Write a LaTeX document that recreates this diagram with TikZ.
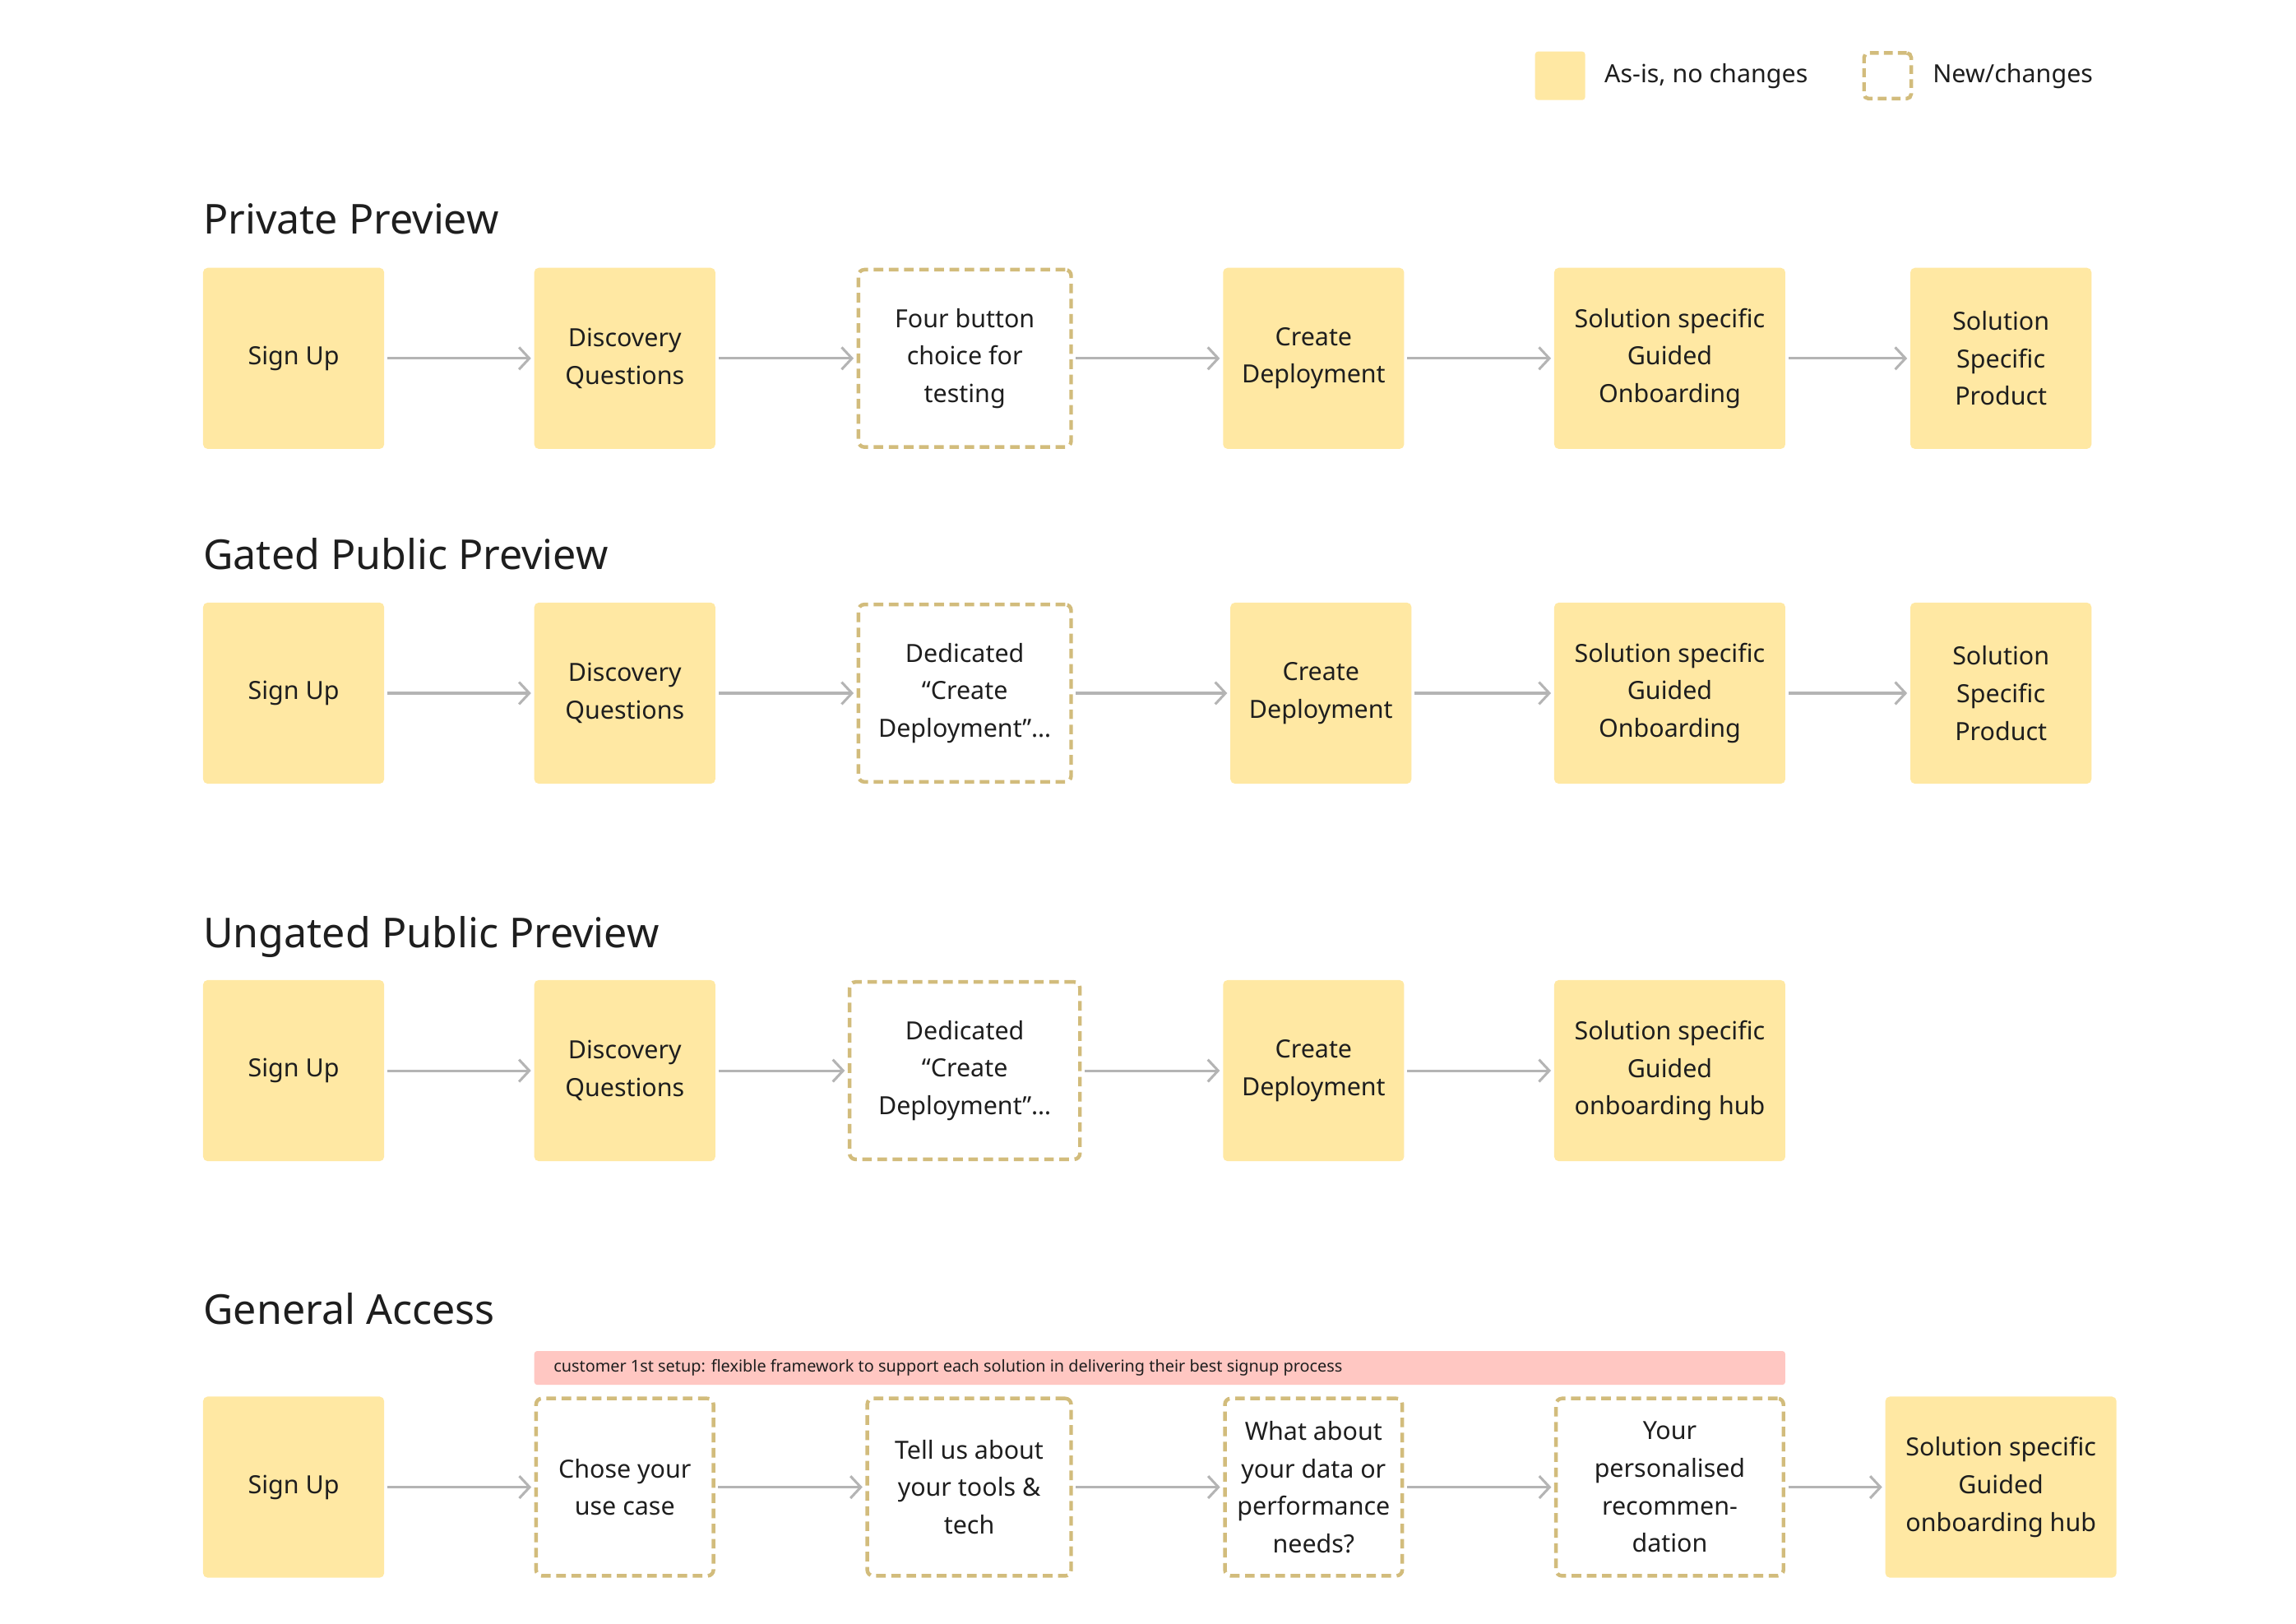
\documentclass[tikz,border=0pt]{standalone}
\usepackage{fontspec}
\setmainfont{Noto Sans}
\usetikzlibrary{arrows.meta}
\definecolor{boxyellow}{HTML}{FFE8A3}
\definecolor{dashgold}{HTML}{D2BC7C}
\definecolor{barpink}{HTML}{FFC7C2}
\definecolor{arrowgray}{HTML}{B4B4B4}
\definecolor{txt}{HTML}{1E1E1E}
\begin{document}
\begin{tikzpicture}[x=1pt,y=-1pt,
  boxtext/.style={align=center, text=txt, font=\fontsize{17}{25.5}\selectfont, inner sep=0pt},
  asis/.style={boxtext, fill=boxyellow, draw=none, rounded corners=3pt, minimum height=123pt},
  newbox/.style={boxtext, draw=dashgold, fill=white, line width=2.5pt, dash pattern=on 6.5pt off 3.8pt, rounded corners=4pt, minimum height=120.5pt},
  flow/.style={draw=arrowgray, line width=1.7pt, -{Straight Barb[length=7pt,width=15pt]}, shorten >=2pt, shorten <=2pt},
  heading/.style={anchor=base west, font=\fontsize{28}{32}\selectfont, text=txt, inner sep=0pt},
  legendtext/.style={anchor=west, font=\fontsize{17}{20}\selectfont, text=txt, inner sep=0pt}
]
\useasboundingbox[fill=white] (0,0) rectangle (1560,1103.5);

% Legend
\node[fill=boxyellow, rounded corners=2pt, minimum width=34pt, minimum height=33pt, inner sep=0pt] (legA) at (1060,51.5) {};
\node[legendtext] (legAt) at (1090,52) {As-is, no changes};
\node[draw=dashgold, line width=2.5pt, dash pattern=on 6pt off 3.5pt, rounded corners=3pt, minimum width=32pt, minimum height=31pt, inner sep=0pt] (legB) at (1282.5,51.5) {};
\node[legendtext] (legBt) at (1313,52) {New/changes};

% Private Preview
\node[heading] (t1) at (138,159) {Private Preview};
\node[asis, minimum width=123pt] (a1) at (199.5,243.5) {Sign Up};
\node[asis, minimum width=123pt] (a2) at (424.5,243.5) {Discovery\\Questions};
\node[newbox, minimum width=144.5pt] (a3) at (655.5,243.5) {Four button\\choice for\\testing};
\node[asis, minimum width=123pt] (a4) at (892.5,243.5) {Create\\Deployment};
\node[asis, minimum width=157pt] (a5) at (1134.5,243.5) {Solution specific\\Guided\\Onboarding};
\node[asis, minimum width=123pt] (a6) at (1359.5,243.5) {Solution\\Specific\\Product};
\foreach \p/\q in {a1/a2,a2/a3,a3/a4,a4/a5,a5/a6} \draw[flow] (\p) -- (\q);

% Gated Public Preview
\node[heading] (t2) at (138,387) {Gated Public Preview};
\node[asis, minimum width=123pt] (b1) at (199.5,471) {Sign Up};
\node[asis, minimum width=123pt] (b2) at (424.5,471) {Discovery\\Questions};
\node[newbox, minimum width=144.5pt] (b3) at (655.5,471) {Dedicated\\“Create\\Deployment”…};
\node[asis, minimum width=123pt] (b4) at (897.5,471) {Create\\Deployment};
\node[asis, minimum width=157pt] (b5) at (1134.5,471) {Solution specific\\Guided\\Onboarding};
\node[asis, minimum width=123pt] (b6) at (1359.5,471) {Solution\\Specific\\Product};
\foreach \p/\q in {b1/b2,b2/b3,b3/b4,b4/b5,b5/b6} \draw[flow] (\p) -- (\q);

% Ungated Public Preview
\node[heading] (t3) at (138,644) {Ungated Public Preview};
\node[asis, minimum width=123pt] (c1) at (199.5,727.5) {Sign Up};
\node[asis, minimum width=123pt] (c2) at (424.5,727.5) {Discovery\\Questions};
\node[newbox, minimum width=156.5pt] (c3) at (655.5,727.5) {Dedicated\\“Create\\Deployment”…};
\node[asis, minimum width=123pt] (c4) at (892.5,727.5) {Create\\Deployment};
\node[asis, minimum width=157pt] (c5) at (1134.5,727.5) {Solution specific\\Guided\\onboarding hub};
\foreach \p/\q in {c1/c2,c2/c3,c3/c4,c4/c5} \draw[flow] (\p) -- (\q);

% General Access
\node[heading] (t4) at (138,900) {General Access};
\node[fill=barpink, rounded corners=2pt, minimum width=850pt, minimum height=23pt, inner sep=0pt] (bar) at (788,929.5) {};
\node[anchor=west, font=\fontsize{11.1}{13}\selectfont, text=txt, inner sep=0pt] (bartext) at (376,929.5) {customer 1st setup: flexible framework to support each solution in delivering their best signup process};
\node[asis, minimum width=123pt] (d1) at (199.5,1010.5) {Sign Up};
\node[newbox, minimum width=120.5pt] (d2) at (424.5,1010.5) {Chose your\\use case};
\node[newbox, minimum width=138.5pt] (d3) at (658.5,1010.5) {Tell us about\\your tools \&\\tech};
\node[newbox, minimum width=120.5pt] (d4) at (892.5,1010.5) {What about\\your data or\\performance\\needs?};
\node[newbox, minimum width=154.5pt] (d5) at (1134.5,1010.5) {Your\\personalised\\recommen-\\dation};
\node[asis, minimum width=157pt] (d6) at (1359.5,1010.5) {Solution specific\\Guided\\onboarding hub};
\foreach \p/\q in {d1/d2,d2/d3,d3/d4,d4/d5,d5/d6} \draw[flow] (\p) -- (\q);
\end{tikzpicture}
\end{document}
